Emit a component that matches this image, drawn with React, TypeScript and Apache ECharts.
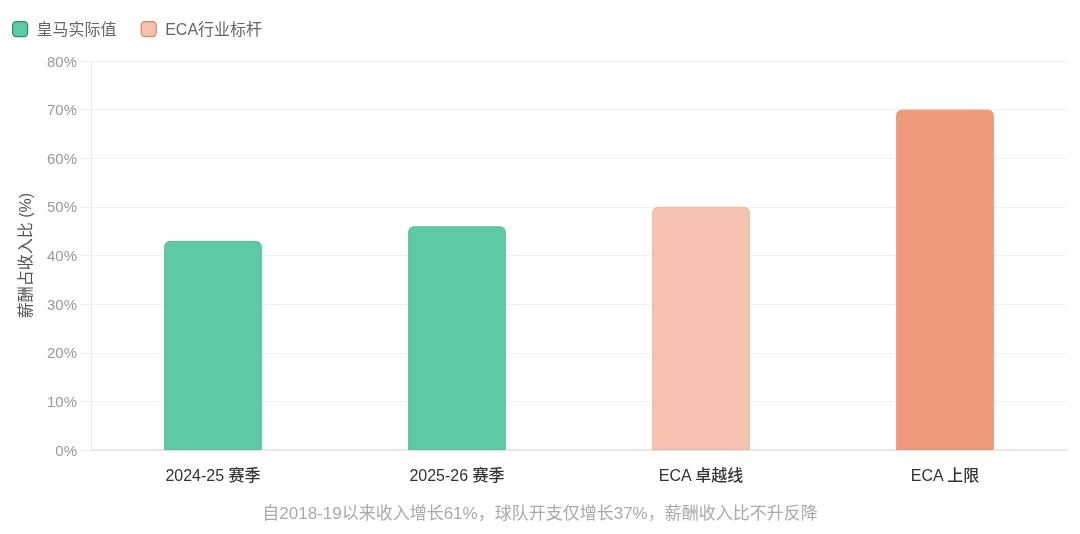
import React, { useEffect, useRef } from "react";
import * as echarts from "echarts";

const categories = ["2024-25 赛季", "2025-26 赛季", "ECA 卓越线", "ECA 上限"];
const actualValues: (number | string)[] = [43, 46, "-", "-"];
const ecaValues: (number | string)[] = ["-", "-", 50, 70];
const yTicks = [0, 10, 20, 30, 40, 50, 60, 70, 80];
const seriesNames = ["皇马实际值", "ECA行业标杆"];
const subtitle = "自2018-19以来收入增长61%，球队开支仅增长37%，薪酬收入比不升反降";

const FONT = "'Liberation Sans', Arial, 'Noto Sans CJK SC', sans-serif";
const GREEN = "#5DC9A5";
const LIGHT = "#F5C2AF";
const DARK = "#EF9A7C";

export default function App() {
  const ref = useRef<HTMLDivElement>(null);
  useEffect(() => {
    if (!ref.current) return;
    const chart = echarts.init(ref.current, undefined, { renderer: "svg" });
    chart.setOption({
      animation: false,
      textStyle: { fontFamily: FONT },
      legend: {
        left: 7,
        top: 16,
        itemWidth: 15,
        itemHeight: 15,
        itemGap: 24,
        icon: "roundRect",
        textStyle: { fontSize: 16, color: "#666", fontFamily: FONT, padding: [0, 0, 0, 4] },
        data: [
          { name: seriesNames[0], itemStyle: { color: GREEN, borderColor: "#2E8B69", borderWidth: 1.2 } },
          { name: seriesNames[1], itemStyle: { color: LIGHT, borderColor: "#E0826A", borderWidth: 1.2 } },
        ],
      },
      grid: { left: 91, right: 13, top: 61, bottom: 84 },
      xAxis: {
        type: "category",
        data: categories,
        axisLine: { lineStyle: { color: "#e3e3e3", width: 1.5 } },
        axisTick: { show: false },
        axisLabel: { fontSize: 16, color: "#333", fontWeight: 500, margin: 17, fontFamily: FONT },
      },
      yAxis: {
        type: "value",
        min: yTicks[0],
        max: yTicks[yTicks.length - 1],
        interval: 10,
        name: "薪酬占收入比 (%)",
        nameLocation: "middle",
        nameGap: 58,
        nameTextStyle: { fontSize: 16, color: "#555", fontFamily: FONT },
        axisLine: { show: true, lineStyle: { color: "#e8e8e8" } },
        axisTick: { show: true, length: 11, lineStyle: { color: "#eeeeee" } },
        axisLabel: { formatter: "{value}%", fontSize: 15, color: "#999", margin: 14, fontFamily: FONT },
        splitLine: { lineStyle: { color: "#f2f2f2" } },
      },
      series: [
        {
          name: seriesNames[0],
          type: "bar",
          stack: "s",
          barWidth: "40%",
          data: actualValues,
          itemStyle: { color: GREEN, borderColor: "#56BD9A", borderWidth: 1, borderRadius: [5, 5, 0, 0] },
        },
        {
          name: seriesNames[1],
          type: "bar",
          stack: "s",
          barWidth: "40%",
          data: ecaValues.map((v, i) =>
            v === "-"
              ? v
              : {
                  value: v,
                  itemStyle: {
                    color: i === 3 ? DARK : LIGHT,
                    borderColor: i === 3 ? "#E8927A" : "#EDB39F",
                  },
                }
          ),
          itemStyle: { color: LIGHT, borderWidth: 1, borderRadius: [5, 5, 0, 0] },
        },
      ],
      graphic: [
        {
          type: "text",
          left: "center",
          top: 505,
          style: { text: subtitle, fontSize: 17, fill: "#aaa", fontFamily: FONT },
        },
      ],
    });
    return () => chart.dispose();
  }, []);
  return <div ref={ref} style={{ position: "fixed", left: 0, top: 0, width: 1080, height: 534 }} />;
}
